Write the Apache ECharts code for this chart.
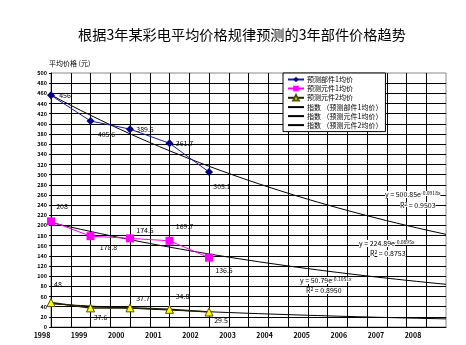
<!DOCTYPE html>
<html>
<head>
<meta charset="utf-8">
<script src="https://cdn.jsdelivr.net/npm/echarts@6/dist/echarts.min.js"></script>
<style>
  html, body { margin: 0; padding: 0; background: #fff; }
  #chart { width: 466px; height: 345px; }
</style>
</head>
<body>
<div id="chart"></div>
<script>
// Observed years and the forecast horizon shown on the axis
const years = [1998, 1999, 2000, 2001, 2002];
const axisYears = [1998, 1999, 2000, 2001, 2002, 2003, 2004, 2005, 2006, 2007, 2008];

// Average prices (元)
const part1Avg = [456, 405.6, 389.5, 361.7, 305.1];
const part2Avg = [208, 178.8, 174.5, 169.7, 136.5];
const part3Avg = [48, 37.6, 37.7, 34.8, 29.5];

const seriesNames = ['预测部件1均价', '预测元件1均价', '预测元件2均价'];
const trendNames = seriesNames.map(n => '指数 （' + n + '）');

const titleText = '根据3年某彩电平均价格规律预测的3年部件价格趋势';
const yAxisName = '平均价格 (元)';

const FONT = '"Noto Sans CJK SC", "DejaVu Sans", sans-serif';

// Exponential least-squares trendline y = a·e^(b·x), x = 1, 2, 3 … per year
function fitExp(values) {
  const n = values.length;
  const xs = values.map((_, i) => i + 1);
  const ls = values.map(v => Math.log(v));
  const mx = xs.reduce((s, x) => s + x, 0) / n;
  const ml = ls.reduce((s, l) => s + l, 0) / n;
  let sxy = 0, sxx = 0, syy = 0;
  for (let i = 0; i < n; i++) {
    sxy += (xs[i] - mx) * (ls[i] - ml);
    sxx += (xs[i] - mx) * (xs[i] - mx);
    syy += (ls[i] - ml) * (ls[i] - ml);
  }
  const b = sxy / sxx;
  const a = Math.exp(ml - b * mx);
  const r2 = (b * b * sxx) / syy;
  return { a, b, r2 };
}

function trendPoints(fit) {
  const pts = [];
  const first = axisYears[0], last = axisYears[axisYears.length - 1];
  for (let t = first; t <= last + 1e-9; t += 0.25) {
    const x = t - first + 1;
    pts.push([t, fit.a * Math.exp(fit.b * x)]);
  }
  return pts;
}

const fits = [part1Avg, part2Avg, part3Avg].map(fitExp);

// Per-point data label offsets (from the symbol centre)
const labelOffsets = [
  [[14, 0], [16, 13], [15, 0], [15, 0], [13, 14]],
  [[11, -15], [18, 11], [15, -8], [15, -14], [15, 13]],
  [[7, -18], [10, 9], [13, -10], [13, -13], [12, 8]]
];

function buildData(values, si) {
  return values.map((v, i) => ({
    value: [years[i], v],
    label: { show: true, position: 'inside', offset: labelOffsets[si][i] }
  }));
}

const dataLabel = {
  show: true,
  formatter: p => String(p.value[1]),
  color: '#000',
  fontSize: 7,
  fontFamily: FONT
};

const series = [
  {
    name: seriesNames[0], type: 'line', data: buildData(part1Avg, 0),
    symbol: 'diamond', symbolSize: 8,
    itemStyle: { color: '#000080' },
    lineStyle: { color: '#1a1aa0', width: 1 },
    label: dataLabel, z: 5
  },
  {
    name: seriesNames[1], type: 'line', data: buildData(part2Avg, 1),
    symbol: 'rect', symbolSize: 8,
    itemStyle: { color: '#ff00ff' },
    lineStyle: { color: '#ff00ff', width: 1 },
    label: dataLabel, z: 5
  },
  {
    name: seriesNames[2], type: 'line', data: buildData(part3Avg, 2),
    symbol: 'triangle', symbolSize: 8,
    itemStyle: { color: '#ffff00', borderColor: '#555500', borderWidth: 1 },
    lineStyle: { color: '#222200', width: 1.5 },
    label: dataLabel, z: 5
  }
].concat(fits.map((f, i) => ({
  name: trendNames[i], type: 'line', data: trendPoints(f),
  showSymbol: false, symbol: 'none',
  itemStyle: { color: '#000' },
  lineStyle: { color: '#000', width: 1 },
  z: 3, silent: true
})));

// Trendline equation / R² annotations
const eqPos = [
  { x: 385, y: 196, rx: 400, ry: 207 },
  { x: 359, y: 245, rx: 370, ry: 255 },
  { x: 300, y: 282, rx: 306, ry: 292 }
];
const graphics = [];
fits.forEach((f, i) => {
  const p = eqPos[i];
  graphics.push({
    type: 'text', left: p.x, top: p.y - 5, z: 20,
    style: {
      text: '{a|y = ' + f.a.toFixed(2) + 'e}{b|' + f.b.toFixed(4) + 'x}',
      rich: {
        a: { fontSize: 7, fontFamily: FONT, fill: '#000', backgroundColor: '#fff' },
        b: { fontSize: 5, fontFamily: FONT, fill: '#000', verticalAlign: 'top', backgroundColor: '#fff' }
      }
    }
  });
  graphics.push({
    type: 'text', left: p.rx, top: p.ry - 5, z: 20,
    style: {
      text: '{a|R}{b|2}{a| = ' + f.r2.toFixed(4) + '}',
      rich: {
        a: { fontSize: 7, fontFamily: FONT, fill: '#000', backgroundColor: '#fff' },
        b: { fontSize: 5, fontFamily: FONT, fill: '#000', verticalAlign: 'top', backgroundColor: '#fff' }
      }
    }
  });
});

// Legend entries: trendlines show a plain line without a marker
const legendData = seriesNames.map(n => ({ name: n }))
  .concat(trendNames.map(n => ({ name: n, itemStyle: { opacity: 0 } })));

const chart = echarts.init(document.getElementById('chart'), null, { renderer: 'canvas' });
chart.setOption({
  animation: false,
  backgroundColor: '#fff',
  title: {
    text: titleText, left: 73, top: 23,
    textStyle: { fontSize: 14.2, fontWeight: 'normal', color: '#000', fontFamily: FONT }
  },
  legend: {
    data: legendData,
    orient: 'vertical', left: 283, top: 73,
    backgroundColor: '#fff', borderColor: '#000', borderWidth: 1,
    padding: [3, 3, 3, 4], itemGap: 2, itemWidth: 16, itemHeight: 7,
    selectedMode: false,
    textStyle: { fontSize: 7, color: '#000', fontFamily: FONT, padding: [0, 0, 0, -2] },
    z: 10
  },
  grid: [
    { left: 51, right: 20, top: 73, bottom: 18, show: true, borderColor: '#888', borderWidth: 1, backgroundColor: '#fff' },
    { left: 42, width: 371, top: 73, bottom: 18, show: false }
  ],
  xAxis: [
    {
      type: 'value', gridIndex: 0, min: 1998, max: 2008, interval: 0.5,
      axisLine: { show: true, lineStyle: { color: '#000', width: 1 } },
      axisTick: { show: false },
      axisLabel: { show: false },
      splitLine: { show: true, showMaxLine: false, lineStyle: { color: '#000', width: 1 } }
    },
    {
      type: 'value', gridIndex: 1, min: axisYears[0], max: axisYears[axisYears.length - 1], interval: 1,
      axisLine: { show: false }, axisTick: { show: false }, splitLine: { show: false },
      axisLabel: {
        show: true, margin: 5, fontSize: 7, fontWeight: 'bold', color: '#000', fontFamily: FONT,
        formatter: v => String(v)
      }
    }
  ],
  yAxis: [
    {
      type: 'value', gridIndex: 0, min: 0, max: 500, interval: 20,
      name: yAxisName, nameLocation: 'end', nameGap: 6,
      nameTextStyle: { fontSize: 7, color: '#000', fontFamily: FONT, align: 'left', padding: [0, 0, 0, -2] },
      axisLine: { show: true, lineStyle: { color: '#000', width: 1 } },
      axisTick: { show: true, length: 2, lineStyle: { color: '#000' } },
      axisLabel: { fontSize: 5.5, fontWeight: 'bold', color: '#000', margin: 4, fontFamily: FONT },
      splitLine: { show: true, showMaxLine: false, lineStyle: { color: '#000', width: 1 } }
    },
    { type: 'value', gridIndex: 1, show: false, min: 0, max: 500 }
  ],
  series: series,
  graphic: graphics
});
</script>
</body>
</html>
